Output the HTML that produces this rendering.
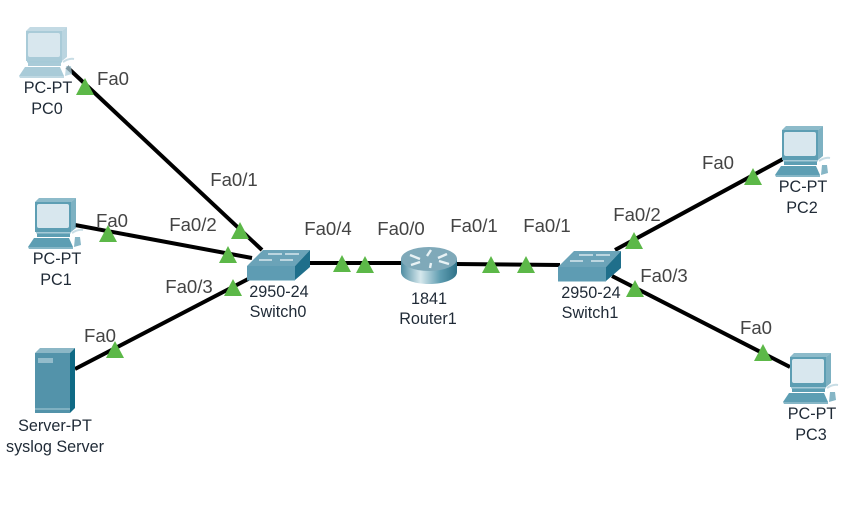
<!DOCTYPE html>
<html>
<head>
<meta charset="utf-8">
<style>
html,body{margin:0;padding:0;background:#fff;width:864px;height:530px;overflow:hidden}
svg{display:block}
text{font-family:"Liberation Sans",Arial,sans-serif;font-size:16px;text-anchor:middle}
.d{fill:#1f2a36;font-size:16.2px}
text.p{fill:#444;font-size:18.6px}
</style>
</head>
<body>
<svg width="864" height="530" viewBox="0 0 864 530" xmlns="http://www.w3.org/2000/svg">
<defs>
<linearGradient id="rg" x1="0" x2="1" y1="0" y2="0">
<stop offset="0" stop-color="#4f8da2"/><stop offset=".35" stop-color="#d6e8ed"/><stop offset=".7" stop-color="#5f9db1"/><stop offset="1" stop-color="#2f7288"/>
</linearGradient>
<g id="pc">
<polygon points="62,31 67,27 67,57 62,61" fill="currentColor" opacity=".8"/>
<polygon points="26,31 30,27 67,27 62,31" fill="currentColor" opacity=".7"/>
<rect x="26" y="31" width="36" height="30" fill="currentColor"/>
<rect x="28" y="33" width="32" height="24" rx="2" fill="#d8e7ee"/>
<rect x="28" y="58" width="33" height="8" fill="currentColor"/>
<rect x="27" y="61" width="35" height="1.5" fill="#a5cad7"/>
<polygon points="25,67 60,67 64,76 19,76" fill="currentColor"/>
<polygon points="19,76 64,76 64,78 20,78" fill="currentColor" opacity=".75"/>
<polygon points="66,66 71,66 72,74 65,76" fill="currentColor" opacity=".75"/>
<path d="M63,62 q6,-4 11,-3" stroke="#c8dde5" stroke-width="2" fill="none"/>
</g>
<polygon id="t" points="0,-9 9,8 -9,8" fill="#5cb848"/>
<g id="sw">
<polygon points="-23,-15 24,-15 9,1 -39,1" fill="#6ba3b8"/>
<polygon points="9,1 24,-15 24,2 9,15" fill="#1f6f8b"/>
<rect x="-39" y="1" width="48" height="14.5" fill="#5e9cb3"/>
<g stroke="#d8e8ee" stroke-width="1.4" fill="none">
<path d="M-18,-11h14M-1,-11h14M-27,-5h13M-6,-5h13"/>
</g>
</g>
</defs>

<g stroke="#000" stroke-width="4" fill="none">
<line x1="67" y1="67" x2="262" y2="250"/>
<line x1="75" y1="225" x2="252" y2="258"/>
<line x1="75" y1="369" x2="252" y2="277"/>
<line x1="305" y1="263" x2="405" y2="263"/>
<line x1="455" y1="264" x2="560" y2="265"/>
<line x1="615" y1="250" x2="783" y2="159"/>
<line x1="612" y1="276" x2="790" y2="367"/>
</g>

<use href="#pc" x="0" y="0" style="color:#a9cbd8"/>
<use href="#pc" x="9" y="171" style="color:#5d9eb3"/>
<use href="#pc" x="756" y="99" style="color:#5d9eb3"/>
<use href="#pc" x="764" y="326" style="color:#5d9eb3"/>

<!-- server -->
<polygon points="35,353 40,348 75,348 70,353" fill="#8cb7c6"/>
<polygon points="70,353 75,348 75,408 70,413" fill="#0f6a85"/>
<rect x="35" y="353" width="35" height="60" fill="#5393aa"/>
<rect x="35" y="408" width="35" height="2" fill="#7fb0c1"/>
<rect x="38" y="358" width="15" height="5" fill="#93bccb"/>

<use href="#sw" x="286" y="265"/>
<use href="#sw" x="597" y="266"/>

<!-- router -->
<path d="M401,259 v13 c0,7 12,12 28,12 s28,-5 28,-12 v-13 z" fill="url(#rg)"/>
<ellipse cx="429" cy="259" rx="28" ry="12" fill="#7fa9b9"/>
<g stroke="#e8f2f5" stroke-width="2.4" fill="none">
<path d="M410,255 l10,4 M447,254 l-9,4 M411,265 l9,-3 M449,264 l-10,-3 M431,250 l-4,6 M430,268 l1,-5"/>
</g>

<use href="#t" x="85" y="87"/>
<use href="#t" x="240" y="231"/>
<use href="#t" x="108" y="234"/>
<use href="#t" x="228" y="255"/>
<use href="#t" x="233" y="288"/>
<use href="#t" x="115" y="350"/>
<use href="#t" x="342" y="264"/>
<use href="#t" x="365" y="265"/>
<use href="#t" x="491" y="265"/>
<use href="#t" x="526" y="265"/>
<use href="#t" x="634" y="241"/>
<use href="#t" x="753" y="177"/>
<use href="#t" x="635" y="289"/>
<use href="#t" x="763" y="353"/>

<text class="p" x="113" y="85">Fa0</text>
<text class="p" x="234" y="186">Fa0/1</text>
<text class="p" x="112" y="227">Fa0</text>
<text class="p" x="193" y="231">Fa0/2</text>
<text class="p" x="189" y="293">Fa0/3</text>
<text class="p" x="100" y="342">Fa0</text>
<text class="p" x="328" y="235">Fa0/4</text>
<text class="p" x="401" y="235">Fa0/0</text>
<text class="p" x="474" y="232">Fa0/1</text>
<text class="p" x="547" y="232">Fa0/1</text>
<text class="p" x="637" y="221">Fa0/2</text>
<text class="p" x="718" y="169">Fa0</text>
<text class="p" x="664" y="282">Fa0/3</text>
<text class="p" x="756" y="334">Fa0</text>

<text class="d" x="48" y="93">PC-PT</text>
<text class="d" x="47" y="114">PC0</text>
<text class="d" x="57" y="264">PC-PT</text>
<text class="d" x="56" y="285">PC1</text>
<text class="d" x="803" y="192">PC-PT</text>
<text class="d" x="802" y="213">PC2</text>
<text class="d" x="812" y="419">PC-PT</text>
<text class="d" x="811" y="440">PC3</text>
<text class="d" x="55" y="431">Server-PT</text>
<text class="d" x="55" y="452">syslog Server</text>
<text class="d" x="279" y="297">2950-24</text>
<text class="d" x="278" y="317">Switch0</text>
<text class="d" x="429" y="304">1841</text>
<text class="d" x="428" y="324">Router1</text>
<text class="d" x="591" y="298">2950-24</text>
<text class="d" x="590" y="318">Switch1</text>
</svg>
</body>
</html>
